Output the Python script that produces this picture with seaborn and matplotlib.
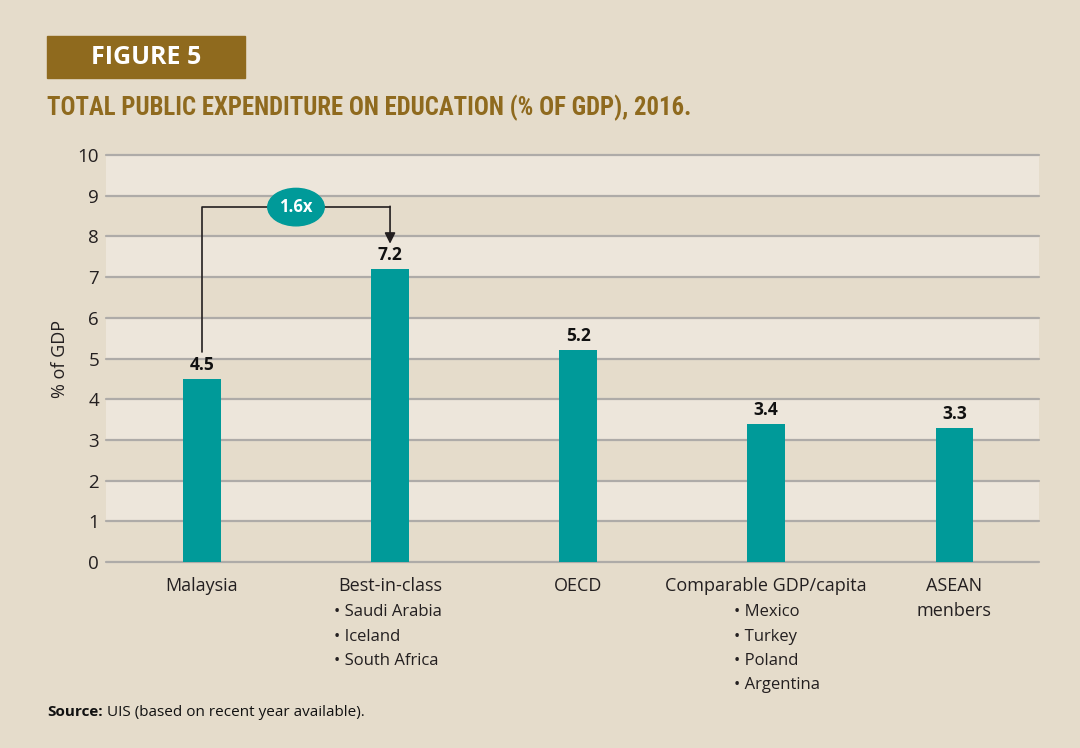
import matplotlib
matplotlib.use("Agg")
import matplotlib.pyplot as plt
import seaborn as sns
from matplotlib.patches import Ellipse
from matplotlib.text import Annotation
from matplotlib import font_manager

# data
categories = ["Malaysia", "Best-in-class", "OECD", "Comparable GDP/capita", "ASEAN\nmenbers"]
values = [4.5, 7.2, 5.2, 3.4, 3.3]
sublists = {1: ["Saudi Arabia", "Iceland", "South Africa"],
            3: ["Mexico", "Turkey", "Poland", "Argentina"]}
yticks = list(range(0, 11))
ratio_label = "1.6x"

BG = "#e5dccb"
BAND = "#ede6db"
TEAL = "#009a99"
BROWN = "#8f6a1e"
GRID = "#aeaba8"

sns.set_theme(style="white")
plt.rcParams["font.family"] = ["Open Sans", "DejaVu Sans"]

# pick a narrow face for the title if one is installed
names = {f.name for f in font_manager.fontManager.ttflist}
narrow = [n for n in ["Liberation Sans Narrow", "DejaVu Sans Condensed", "Roboto Condensed",
                      "Open Sans Condensed", "Roboto"] if n in names]
title_family = narrow[0] if narrow else "DejaVu Sans"

fig = plt.figure(figsize=(10.8, 7.48), dpi=100, facecolor=BG)
ax = fig.add_axes([106 / 1080, (748 - 562) / 748, (1039 - 106) / 1080, (562 - 155) / 748])
ax.set_facecolor(BG)

# alternating bands and gridlines
for lo in range(1, 10, 2):
    ax.axhspan(lo, lo + 1, color=BAND, zorder=0, lw=0)
for t in yticks:
    ax.axhline(t, color=GRID, lw=1.6, zorder=1, clip_on=False)

sns.barplot(x=categories, y=values, color=TEAL, width=0.2, saturation=1, ax=ax,
            linewidth=0, edgecolor=TEAL, zorder=3)

ax.set_ylim(0, 10)
ax.set_xlim(-0.51, 4.45)
ax.set_yticks(yticks)
ax.set_yticklabels([str(t) for t in yticks], fontsize=13.5, color="#231f20")
ax.tick_params(axis="y", length=0, pad=5)
ax.tick_params(axis="x", length=0, pad=11)
ax.set_xticks(range(len(categories)))
ax.set_xticklabels(categories, fontsize=13, color="#231f20", va="top", linespacing=1.45)
for s in ax.spines.values():
    s.set_visible(False)
ax.set_ylabel("% of GDP", fontsize=13, color="#231f20", labelpad=6)
ax.set_xlabel("")

# value labels
for i, v in enumerate(values):
    ax.text(i, v + 0.12, f"{v}", ha="center", va="bottom", fontsize=12.5,
            fontweight="bold", color="#111111", zorder=5)

# bullet sublists under tick labels
offsets = {1: -0.30, 3: -0.17}
for i, items in sublists.items():
    for k, name in enumerate(items):
        ax.text(i + offsets[i], -1.24 - k * 0.597, "\u2022 " + name, ha="left", va="center",
                fontsize=12, color="#231f20", clip_on=False)

# ratio bracket arrow
y_top = 8.72
ax.plot([0, 0, 1], [values[0] + 0.65, y_top, y_top], color="#231f20", lw=1.2, zorder=4)
ax.annotate("", xy=(1, values[1] + 0.62), xytext=(1, y_top + 0.02),
            arrowprops=dict(arrowstyle="-|>", color="#231f20", lw=1.2, mutation_scale=16,
                            shrinkA=0, shrinkB=0), zorder=4)
ax.add_patch(Ellipse((0.5, y_top), 0.30, 0.92, color=TEAL, zorder=6))
ax.text(0.5, y_top, ratio_label, ha="center", va="center", fontsize=12,
        fontweight="bold", color="white", zorder=7)

# header box and title
fig.patches.append(plt.Rectangle((47 / 1080, 1 - 78 / 748), 198 / 1080, 42 / 748,
                                 transform=fig.transFigure, color=BROWN, zorder=0))
fig.text(146 / 1080, 1 - 58 / 748, "FIGURE 5", ha="center", va="center",
         fontsize=18, fontweight="bold", color="white")
fig.text(47 / 1080, 1 - 108 / 748, "TOTAL PUBLIC EXPENDITURE ON EDUCATION (% OF GDP), 2016.",
         ha="left", va="center", fontsize=17.8, fontweight="bold", color=BROWN,
         family=title_family, fontstretch="condensed")

# source
src = fig.text(47 / 1080, 1 - 712 / 748, "Source:", ha="left", va="center", fontsize=11,
               fontweight="bold", color="#111111")
fig.add_artist(Annotation(" UIS (based on recent year available).", xy=(1, 0.5), xycoords=src,
                          ha="left", va="center", fontsize=11, color="#111111"))

fig.savefig("out.png", dpi=100, facecolor=BG)
